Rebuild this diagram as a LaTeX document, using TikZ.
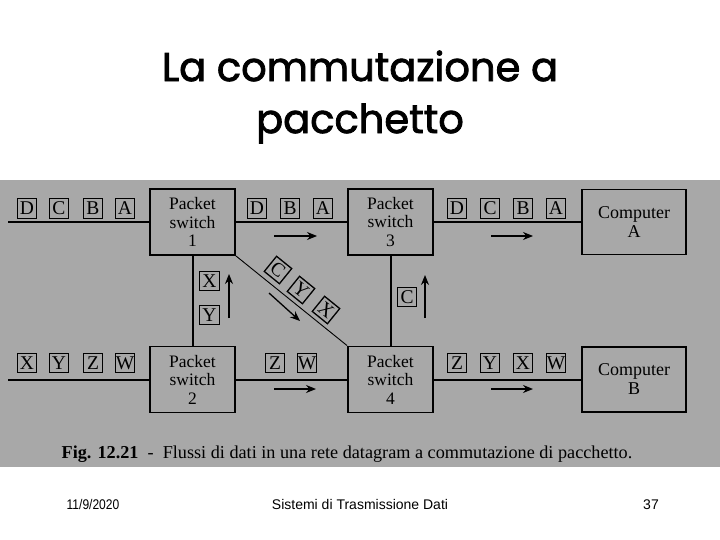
\documentclass[tikz,border=0pt]{standalone}
\usepackage{fontspec}
\setmainfont{Liberation Serif}
\newfontfamily\titlefont[FakeBold=2]{Poppins}
\newfontfamily\footfont{Liberation Sans}
\usetikzlibrary{arrows.meta}
\definecolor{panel}{RGB}{168,168,168}
\tikzset{
  sw/.style={draw, line width=1.8pt, minimum width=85pt, minimum height=66pt, inner sep=0pt, align=center, font=\fontsize{17.5}{18.5}\selectfont},
  comp/.style={draw, line width=1.8pt, minimum width=104pt, minimum height=65pt, inner sep=0pt, align=center, font=\fontsize{18}{19}\selectfont},
  pkt/.style={draw, line width=1.3pt, minimum size=19.5pt, inner sep=0pt, font=\fontsize{19.5}{19}\selectfont},
  link/.style={line width=2pt},
  dlink/.style={line width=0.9pt},
  flow/.style={line width=1.3pt, -{Stealth[length=10pt,width=8pt]}},
  foot/.style={font=\footfont\fontsize{14}{16}\selectfont, anchor=base}
}
\begin{document}
\begin{tikzpicture}[x=1pt,y=-1pt]
\useasboundingbox (0,0) rectangle (720,540);
\fill[white] (0,0) rectangle (720,540);
\fill[panel] (0,180) rectangle (720,467);
% title
\node[font=\titlefont\fontsize{40}{52}\selectfont, align=center] (title) at (360,97) {La commutazione a\\pacchetto};
% switches
\node[sw] (ps1) at (192.5,222) {Packet\\switch\\1};
\node[sw] (ps3) at (390.5,222) {Packet\\switch\\3};
\node[comp] (ca) at (634,222) {Computer\\A};
\node[sw] (ps2) at (192.5,379.5) {Packet\\switch\\2};
\node[sw] (ps4) at (390.5,379.5) {Packet\\switch\\4};
\node[comp] (cb) at (634,379.5) {Computer\\B};
% links
\coordinate (inA) at (8,222);
\coordinate (inB) at (8,379.5);
\draw[link] (inA) -- (ps1);
\draw[link] (ps1) -- (ps3);
\draw[link] (ps3) -- (ca);
\draw[link] (inB) -- (ps2);
\draw[link] (ps2) -- (ps4);
\draw[link] (ps4) -- (cb);
\draw[link] (ps1) -- (ps2);
\draw[link] (ps3) -- (ps4);
\draw[dlink] (ps1.south east) -- (ps4.north west);
% packets top
\node[pkt] (t1) at (27,208.5) {D};
\node[pkt] (t2) at (59,208.5) {C};
\node[pkt] (t3) at (93,208.5) {B};
\node[pkt] (t4) at (125,208.5) {A};
\node[pkt] (t5) at (257,208.5) {D};
\node[pkt] (t6) at (290,208.5) {B};
\node[pkt] (t7) at (323,208.5) {A};
\node[pkt] (t8) at (457,208.5) {D};
\node[pkt] (t9) at (490,208.5) {C};
\node[pkt] (t10) at (523,208.5) {B};
\node[pkt] (t11) at (556,208.5) {A};
% packets bottom
\node[pkt] (b1) at (27,363) {X};
\node[pkt] (b2) at (59,363) {Y};
\node[pkt] (b3) at (93,363) {Z};
\node[pkt] (b4) at (125,363) {W};
\node[pkt] (b5) at (275,363) {Z};
\node[pkt] (b6) at (307,363) {W};
\node[pkt] (b7) at (457,363) {Z};
\node[pkt] (b8) at (490,363) {Y};
\node[pkt] (b9) at (523,363) {X};
\node[pkt] (b10) at (556,363) {W};
% vertical packets
\node[pkt] (v1) at (209.5,281) {X};
\node[pkt] (v2) at (209.5,315) {Y};
\node[pkt] (v3) at (407,297) {C};
% diagonal packets
\node[pkt, rotate=-39] (d1) at (278,270) {C};
\node[pkt, rotate=-39] (d2) at (301,290) {Y};
\node[pkt, rotate=-39] (d3) at (326,310) {X};
% flow arrows
\coordinate (f1s) at (274,236); \coordinate (f1e) at (317,236);
\coordinate (f2s) at (491,236); \coordinate (f2e) at (533,236);
\coordinate (f3s) at (274,389); \coordinate (f3e) at (316,389);
\coordinate (f4s) at (491,389); \coordinate (f4e) at (533,389);
\coordinate (f5s) at (229,318); \coordinate (f5e) at (229,274);
\coordinate (f6s) at (425,318); \coordinate (f6e) at (425,275);
\coordinate (f7s) at (269,293); \coordinate (f7e) at (300,321);
\draw[flow] (f1s) -- (f1e);
\draw[flow] (f2s) -- (f2e);
\draw[flow] (f3s) -- (f3e);
\draw[flow] (f4s) -- (f4e);
\draw[flow] (f5s) -- (f5e);
\draw[flow] (f6s) -- (f6e);
\draw[flow] (f7s) -- (f7e);
% caption
\node[font=\fontsize{18.2}{20}\selectfont, anchor=base] (cap) at (347,458) {\textbf{Fig. 12.21}\ \ -\ \ Flussi di dati in una rete datagram a commutazione di pacchetto.};
% footer
\node[foot] (date) at (93,509) {\scalebox{0.86}[1]{11/9/2020}};
\node[foot] (course) at (360,509) {Sistemi di Trasmissione Dati};
\node[foot] (page) at (651,509) {37};
\end{tikzpicture}
\end{document}
